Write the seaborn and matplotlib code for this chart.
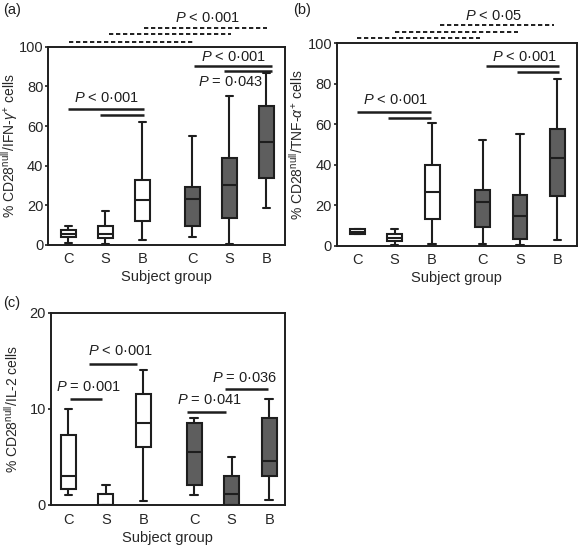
import pandas as pd
import matplotlib
matplotlib.use("Agg")
import matplotlib.pyplot as plt
import seaborn as sns

# subject groups, two cohorts (white / grey boxes)
groups = ["C", "S", "B", "C", "S", "B"]
cohorts = ["one", "one", "one", "two", "two", "two"]

# five-number summaries: min, q1, median, q3, max
ifn_stats = [[1, 4, 5.5, 7.5, 9.5], [0.5, 3.5, 5.5, 9.5, 17], [2.5, 12, 22.5, 33, 62],
             [4, 9.5, 23, 29, 55], [0.5, 13.5, 30.5, 44, 75], [18.5, 34, 52, 70, 86.5]]
tnf_stats = [[5.6, 5.6, 7, 8.2, 8.2], [0.5, 2.3, 4, 6, 8.2], [1, 13, 26.5, 40, 60.5],
             [1, 9, 21.5, 27.5, 52], [0.3, 3.5, 14.5, 25, 55], [3, 24.5, 43.5, 57.5, 82.5]]
il2_stats = [[1, 1.6, 3, 7.2, 10], [0, 0, 0, 1.1, 2], [0.4, 6, 8.5, 11.5, 14],
             [1, 2, 5.5, 8.5, 9], [0, 0, 1.1, 3, 5], [0.5, 3, 4.5, 9, 11]]

ifn_pvals = ["$P$ < 0·001", "$P$ < 0·001", "$P$ = 0·043", "$P$ < 0·001"]
tnf_pvals = ["$P$ < 0·001", "$P$ < 0·001", "$P$ < 0·05"]
il2_pvals = ["$P$ = 0·001", "$P$ < 0·001", "$P$ = 0·041", "$P$ = 0·036"]

positions = [1, 2, 3, 4.35, 5.35, 6.35]

sns.set_style("ticks")
plt.rcParams["font.family"] = ["Liberation Sans", "DejaVu Sans"]
plt.rcParams["mathtext.fontset"] = "custom"
plt.rcParams["mathtext.rm"] = "Liberation Sans"
plt.rcParams["mathtext.it"] = "Liberation Sans:italic"
plt.rcParams["mathtext.bf"] = "Liberation Sans:bold"

INK = "#1e1e1e"


def to_frame(stats):
    rows = []
    for pos, coh, vals in zip(positions, cohorts, stats):
        for v in vals:
            rows.append({"pos": pos, "cohort": coh, "value": v})
    return pd.DataFrame(rows)


def draw_panel(ax, stats, ylim, yticks, ylabel, xlim, label_x):
    df = to_frame(stats)
    sns.boxplot(data=df, x="pos", y="value", hue="cohort", native_scale=True,
                palette={"one": "white", "two": "#5e5e5e"}, width=0.4,
                whis=(0, 100), linecolor=INK, linewidth=1.5, fliersize=0,
                legend=False, ax=ax)
    ax.set_xlim(*xlim)
    ax.set_ylim(*ylim)
    ax.set_yticks(yticks)
    ax.set_xticks(positions)
    ax.set_xticklabels(groups)
    ax.tick_params(axis="x", length=0, pad=5, labelsize=10.5)
    ax.tick_params(axis="y", length=2.5, width=1.2, pad=0.8, labelsize=10.5, color=INK)
    ax.set_xlabel("Subject group", fontsize=10.5, labelpad=3)
    ax.set_ylabel(ylabel, fontsize=10)
    ax.yaxis.set_label_coords(label_x, 0.5)
    for s in ax.spines.values():
        s.set_linewidth(1.4)
        s.set_color(INK)


def solid(ax, lines):
    for x0, x1, y in lines:
        ax.plot([x0, x1], [y, y], color=INK, lw=1.8, clip_on=False, solid_capstyle="butt")


def dashed(ax, lines):
    for x0, x1, y in lines:
        ax.plot([x0, x1], [y, y], color=INK, lw=1.4, ls=(0, (2.2, 1.4)), clip_on=False)


def labels(ax, items, texts):
    for (x, y), t in zip(items, texts):
        ax.text(x, y, t, ha="center", va="center", fontsize=10.5, color=INK, clip_on=False)


W, H = 578, 547
fig = plt.figure(figsize=(W / 100, H / 100), dpi=100)


def box(l, t, r, b):
    return [l / W, 1 - b / H, (r - l) / W, (b - t) / H]


ax_a = fig.add_axes(box(48, 46.7, 285, 245))
ax_b = fig.add_axes(box(336.7, 43.3, 576.5, 245.7))
ax_c = fig.add_axes(box(50.7, 312.7, 285, 504.5))

draw_panel(ax_a, ifn_stats, (0, 100), range(0, 101, 20),
           r"% CD28$^{\mathrm{null}}$/IFN-$\gamma^{+}$ cells", (0.45, 6.85), -0.12)
solid(ax_a, [(1.0, 3.05, 68.4), (1.85, 3.05, 65.6), (4.4, 6.5, 90.4), (5.2, 6.5, 87.7)])
dashed(ax_a, [(1.02, 4.37, 102.5), (2.1, 5.4, 106.2), (3.05, 6.37, 109.2)])
labels(ax_a, [(2.04, 74.1), (5.45, 94.6), (5.37, 82.4), (4.77, 114.3)], ifn_pvals)

draw_panel(ax_b, tnf_stats, (0, 100), range(0, 101, 20),
           r"% CD28$^{\mathrm{null}}$/TNF-$\alpha^{+}$ cells", (0.45, 6.86), -0.13)
solid(ax_b, [(0.98, 2.98, 66.3), (1.83, 2.98, 63.3), (4.45, 6.4, 88.7), (5.28, 6.4, 85.9)])
dashed(ax_b, [(0.98, 4.27, 102.6), (2.0, 5.29, 105.6), (3.2, 6.27, 108.9)])
labels(ax_b, [(2.03, 71.9), (5.47, 93.2), (4.63, 113.3)], tnf_pvals)

draw_panel(ax_c, il2_stats, (0, 20), [0, 10, 20],
           r"% CD28$^{\mathrm{null}}$/IL-2 cells", (0.53, 6.77), -0.13)
ax_c.tick_params(axis="x", pad=6)
solid(ax_c, [(1.05, 1.89, 11.0), (1.56, 2.84, 14.7), (4.17, 5.19, 9.65), (5.17, 6.32, 12.0)])
labels(ax_c, [(1.53, 12.3), (2.38, 16.0), (4.77, 10.9), (5.70, 13.2)], il2_pvals)

fig.text(3 / W, 1 - 10 / H, "(a)", fontsize=10.5, va="center", color=INK)
fig.text(293 / W, 1 - 10 / H, "(b)", fontsize=10.5, va="center", color=INK)
fig.text(3 / W, 1 - 303 / H, "(c)", fontsize=10.5, va="center", color=INK)

fig.savefig("out.png", dpi=100)
